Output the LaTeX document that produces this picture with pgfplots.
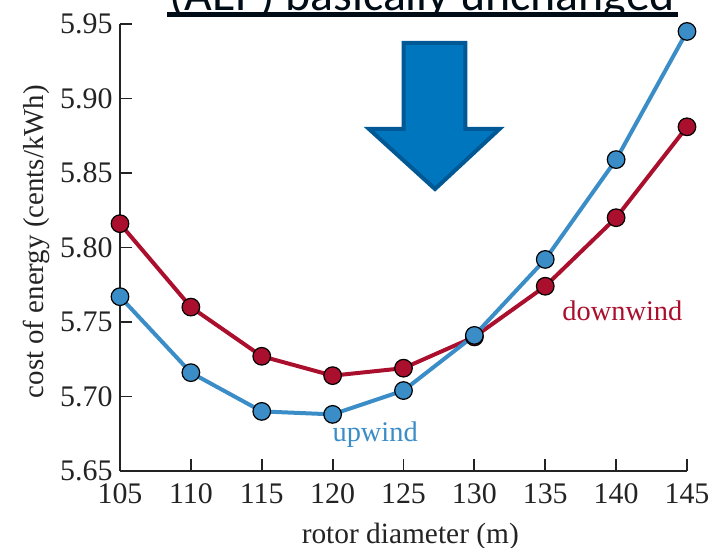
\documentclass[border=0pt]{standalone}
\usepackage{pgfplots}
\pgfplotsset{compat=1.18}
\usepackage{fontspec}
\setmainfont{Liberation Serif}
\newfontfamily\calibri{Carlito}
\definecolor{upblue}{RGB}{58,141,199}
\definecolor{downred}{RGB}{170,16,45}
\definecolor{arrowfill}{RGB}{0,118,190}
\definecolor{arrowedge}{RGB}{0,88,148}
\definecolor{titlecol}{RGB}{0,12,22}
\definecolor{axcol}{RGB}{35,35,35}
\begin{document}
\begin{tikzpicture}
\useasboundingbox (-120bp,-77bp) rectangle (591bp,471bp);
\clip (-120bp,-77bp) rectangle (591bp,471bp);
\begin{axis}[
  at={(0bp,0bp)}, anchor=south west,
  scale only axis, width=567bp, height=447bp,
  xmin=105, xmax=145, ymin=5.65, ymax=5.95,
  axis x line*=bottom, axis y line*=left,
  axis line style={line width=2bp, color=axcol, -},
  xtick={105,110,115,120,125,130,135,140,145},
  ytick={5.65,5.70,5.75,5.80,5.85,5.90,5.95},
  tick align=inside, major tick length=12bp,
  tick style={line width=1.8bp, color=axcol},
  ticklabel style={font=\fontsize{30}{35}\selectfont, color=axcol},
  yticklabel style={xshift=-4bp, /pgf/number format/.cd, fixed, fixed zerofill, precision=2},
  xticklabel style={yshift=-9bp, /pgf/number format/.cd, fixed, precision=0},
  /pgf/number format/assume math mode=true,
  xlabel={rotor diameter (m)}, ylabel={cost of energy (cents/kWh)},
  xlabel style={font=\fontsize{29.5}{34}\selectfont, color=axcol, at={(axis description cs:0.512,0)}, anchor=center, yshift=-65bp},
  ylabel style={font=\fontsize{29}{34}\selectfont, color=axcol, at={(axis description cs:-0.1466,0.513)}, anchor=center},
  clip=false,
]
\addplot[color=downred, line width=4bp, mark=*, mark size=8.8bp,
  mark options={fill=downred, draw=black, line width=1.2bp}] coordinates {
  (105,5.816) (110,5.760) (115,5.727) (120,5.714) (125,5.719)
  (130,5.740) (135,5.774) (140,5.820) (145,5.881)};
\addplot[color=upblue, line width=4bp, mark=*, mark size=8.8bp,
  mark options={fill=upblue, draw=black, line width=1.2bp}] coordinates {
  (105,5.767) (110,5.716) (115,5.690) (120,5.688) (125,5.704)
  (130,5.741) (135,5.792) (140,5.859) (145,5.945)};
\node[text=upblue, font=\fontsize{28.5}{32}\selectfont] at (axis cs:123.0,5.6742) {upwind};
\node[text=downred, font=\fontsize{28.5}{32}\selectfont] at (axis cs:140.44,5.7574) {downwind};
\end{axis}
% arrow
\draw[line width=4bp, draw=arrowedge, fill=arrowfill, line join=miter]
  (283.7bp,428bp) -- (345.3bp,428bp) -- (345.3bp,342bp) -- (379.5bp,342bp) -- (315bp,282bp)
  -- (249bp,342bp) -- (283.7bp,342bp) -- cycle;
% title (cut off)
\begin{scope}
\clip (-120bp,454bp) rectangle (591bp,471bp);
\node[anchor=base, font=\calibri\fontsize{48}{56}\selectfont, text=titlecol, inner sep=0pt] at (302.5bp,460bp) {(AEP) basically unchanged};
\end{scope}
\draw[line width=4.5bp, titlecol] (47bp,456.5bp) -- (558bp,456.5bp);
\end{tikzpicture}
\end{document}
